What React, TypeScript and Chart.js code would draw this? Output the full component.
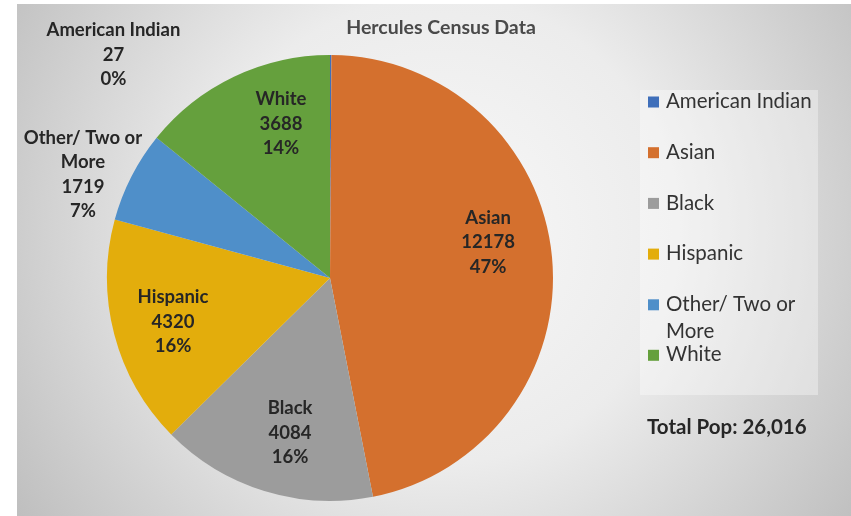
import React, { useEffect, useRef } from "react";
import { Chart, registerables } from "chart.js";

Chart.register(...registerables);

const categories = ["American Indian", "Asian", "Black", "Hispanic", "Other/ Two or More", "White"];
const values = [27, 12178, 4084, 4320, 1719, 3688];
const percentLabels = ["0%", "47%", "16%", "16%", "7%", "14%"];
const colors = ["#3f6fba", "#d4702e", "#9c9c9c", "#e3ad0c", "#4f8fc9", "#65a03d"];
const chartTitle = "Hercules Census Data";
const totalPrefix = "Total Pop: ";

// wrapped text for labels / legend (presentation)
const labelLines: Record<string, string[]> = {
  "Other/ Two or More": ["Other/ Two or", "More"],
};
// label anchor as offsets from pie center in units of radius (layout)
const labelAnchor = [
  { dx: -0.971, dy: -1.0 },
  { dx: 0.709, dy: -0.161 },
  { dx: -0.179, dy: 0.695 },
  { dx: -0.704, dy: 0.197 },
  { dx: -1.108, dy: -0.464 },
  { dx: -0.22, dy: -0.691 },
];

const W = 851;
const H = 516;

export default function App() {
  const ref = useRef<HTMLCanvasElement | null>(null);
  useEffect(() => {
    document.body.style.margin = "0";
    const canvas = ref.current!;
    const total = values.reduce((a, b) => a + b, 0);

    const bgPlugin = {
      id: "bg",
      beforeDraw(chart: any) {
        const ctx = chart.ctx as CanvasRenderingContext2D;
        ctx.save();
        ctx.fillStyle = "#ffffff";
        ctx.fillRect(0, 0, W, H);
        const g = ctx.createRadialGradient(440, 230, 0, 440, 230, 520);
        g.addColorStop(0, "#f8f8f8");
        g.addColorStop(0.45, "#ececec");
        g.addColorStop(1, "#bdbdbd");
        ctx.fillStyle = g;
        ctx.fillRect(17, 4, W - 17, H - 4);
        // legend box
        ctx.fillStyle = "rgba(255,255,255,0.35)";
        ctx.fillRect(640, 90, 178, 305);
        ctx.restore();
      },
    };

    const textPlugin = {
      id: "texts",
      afterDraw(chart: any) {
        const ctx = chart.ctx as CanvasRenderingContext2D;
        const meta = chart.getDatasetMeta(0);
        const arc = meta.data[0];
        const cx = arc.x;
        const cy = arc.y;
        const r = arc.outerRadius;
        ctx.save();
        // title
        ctx.fillStyle = "#4a4a4a";
        ctx.font = "bold 19.5px Lato";
        ctx.textAlign = "center";
        ctx.textBaseline = "middle";
        ctx.fillText(chartTitle, 441, 28);

        // data labels
        ctx.fillStyle = "#262626";
        ctx.font = "bold 18.5px Lato";
        categories.forEach((c, i) => {
          const lines = [...(labelLines[c] || [c]), String(values[i]), percentLabels[i]];
          const x = cx + labelAnchor[i].dx * r;
          const y = cy + labelAnchor[i].dy * r;
          const lh = 24.5;
          const y0 = y - ((lines.length - 1) * lh) / 2;
          lines.forEach((ln, k) => ctx.fillText(ln, x, y0 + k * lh));
        });

        // legend
        ctx.textAlign = "left";
        ctx.font = "20.5px Lato";
        let y = 101.5;
        categories.forEach((c, i) => {
          const lines = labelLines[c] || [c];
          ctx.fillStyle = colors[i];
          ctx.fillRect(648, y - 5, 11, 11);
          ctx.fillStyle = "#333333";
          lines.forEach((ln, k) => ctx.fillText(ln, 666, y + k * 27));
          y += lines.length > 1 ? 50.5 : 50.7;
        });

        // total
        ctx.fillStyle = "#262626";
        ctx.font = "bold 20.5px Lato";
        ctx.fillText(totalPrefix + total.toLocaleString("en-US"), 647, 427);
        ctx.restore();
      },
    };

    const chart = new Chart(canvas, {
      type: "pie",
      data: {
        labels: categories,
        datasets: [{ data: values, backgroundColor: colors, borderWidth: 0 }],
      },
      options: {
        responsive: false,
        animation: false,
        devicePixelRatio: 1,
        layout: { padding: { top: 55, bottom: 15, left: 107, right: 298 } },
        plugins: { legend: { display: false }, title: { display: false }, tooltip: { enabled: false } },
      },
      plugins: [bgPlugin, textPlugin],
    });
    return () => chart.destroy();
  }, []);
  return <canvas ref={ref} width={W} height={H} style={{ display: "block" }} />;
}
